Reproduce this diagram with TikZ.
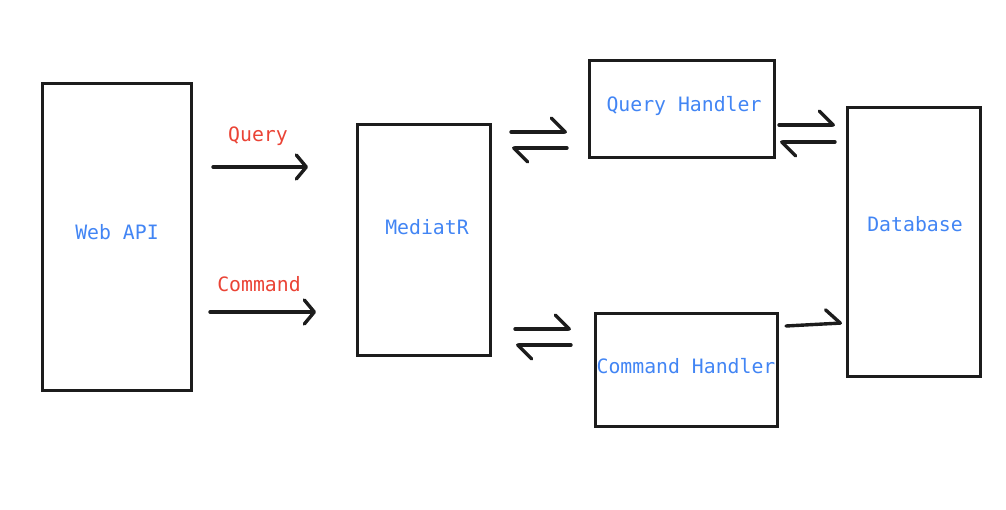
\documentclass[tikz,border=0pt]{standalone}
\usepackage{fontspec}
\setmonofont{DejaVu Sans Mono}
\usetikzlibrary{arrows.meta}

\definecolor{txtblue}{RGB}{66,133,244}
\definecolor{txtred}{RGB}{234,67,53}
\definecolor{ink}{RGB}{28,28,28}

\tikzset{
  box/.style = {draw=ink, line width=3pt, rectangle, inner sep=0pt},
  boxtext/.style = {font=\ttfamily\fontsize{19.8}{22}\selectfont, text=txtblue},
  flowtext/.style = {font=\ttfamily\fontsize{19.8}{22}\selectfont, text=txtred},
  flow/.style = {draw=ink, line width=3.4pt, line cap=round,
    -{Straight Barb[round, length=10pt, width=24pt]}},
  harp/.style = {draw=ink, line width=3.4pt, line cap=round,
    -{Straight Barb[round, harpoon, length=14pt, width=28pt]}}
}

\begin{document}
\begin{tikzpicture}[x=1pt, y=-1pt]
\useasboundingbox (0,0) rectangle (1006,510);

% boxes
\node[box, minimum width=149pt, minimum height=306pt,
  label={[boxtext, xshift=0.5pt, yshift=4.5pt]center:Web API}] (webapi) at (116.5,237) {};
\node[box, minimum width=133pt, minimum height=230pt,
  label={[boxtext, xshift=3.5pt, yshift=12.5pt]center:MediatR}] (mediatr) at (423.5,240) {};
\node[box, minimum width=185pt, minimum height=97pt,
  label={[boxtext, xshift=2.5pt, yshift=4pt]center:Query Handler}] (qhandler) at (681.5,109.5) {};
\node[box, minimum width=182pt, minimum height=112pt,
  label={[boxtext, yshift=4pt]center:Command Handler}] (chandler) at (686,370) {};
\node[box, minimum width=133pt, minimum height=268pt,
  label={[boxtext, xshift=1.5pt, yshift=17.5pt]center:Database}] (database) at (913.5,242) {};

% web api -> mediatr
\coordinate (qs) at (213,167);
\coordinate (qe) at (308,167);
\coordinate (cs) at (210,312);
\coordinate (ce) at (316,312);
\draw[flow] (qs) -- (qe);
\draw[flow] (cs) -- (ce);
\node[flowtext] (qlabel) at (258,136.5) {Query};
\node[flowtext] (clabel) at (259,284.5) {Command};

% mediatr <-> handlers
\coordinate (mq1) at (511,132);
\coordinate (mq2) at (567,132);
\coordinate (mq3) at (567,148);
\coordinate (mq4) at (512,148);
\draw[harp] (mq1) -- (mq2);
\draw[harp] (mq3) -- (mq4);

\coordinate (mc1) at (515,329);
\coordinate (mc2) at (571,329);
\coordinate (mc3) at (571,345);
\coordinate (mc4) at (516,345);
\draw[harp] (mc1) -- (mc2);
\draw[harp] (mc3) -- (mc4);

% handlers -> database
\coordinate (qd1) at (779,125);
\coordinate (qd2) at (835,125);
\coordinate (qd3) at (835,142);
\coordinate (qd4) at (780,142);
\draw[harp] (qd1) -- (qd2);
\draw[harp] (qd3) -- (qd4);

\coordinate (cd1) at (786,326);
\coordinate (cd2) at (842,323);
\draw[harp] (cd1) -- (cd2);
\end{tikzpicture}
\end{document}
